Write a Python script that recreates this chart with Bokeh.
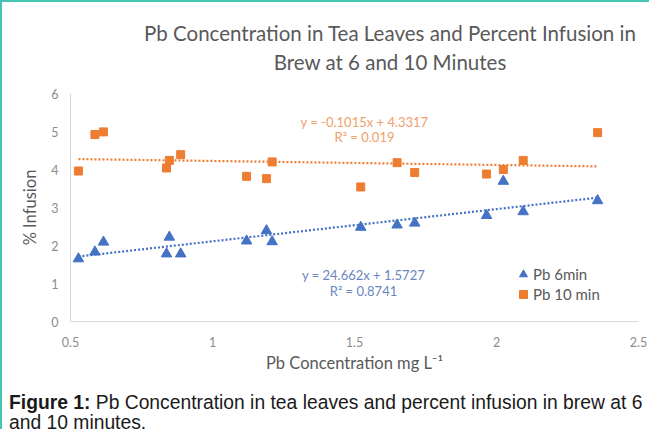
import numpy as np
from bokeh.plotting import figure
from bokeh.layouts import column
from bokeh.models import Label, Legend, LegendItem, FixedTicker, Range1d, Div
from bokeh.embed import file_html
from bokeh.resources import INLINE

# ---- data ----
pb_conc = [0.528, 0.586, 0.616, 0.838, 0.848, 0.888, 1.120, 1.190, 1.210,
           1.522, 1.650, 1.712, 1.965, 2.024, 2.094, 2.356]
pb_6min = [1.65, 1.83, 2.09, 1.78, 2.22, 1.78, 2.12, 2.39, 2.10,
           2.48, 2.54, 2.59, 2.79, 3.69, 2.89, 3.18]
pb_10min = [3.96, 4.92, 4.99, 4.04, 4.24, 4.39, 3.82, 3.76, 4.20,
            3.54, 4.18, 3.92, 3.88, 4.00, 4.24, 4.97]
series_names = ["Pb 6min", "Pb 10 min"]
x_ticks = [0.5, 1, 1.5, 2, 2.5]
x_tick_labels = ["0.5", "1", "1.5", "2", "2.5"]
y_ticks = [0, 1, 2, 3, 4, 5, 6]
y_tick_labels = ["0", "1", "2", "3", "4", "5", "6"]
eq_6min = ["y = 24.662x + 1.5727", "R\u00b2 = 0.8741"]
eq_10min = ["y = -0.1015x + 4.3317", "R\u00b2 = 0.019"]
title_lines = ["Pb Concentration in Tea Leaves and Percent Infusion in",
               "Brew at 6 and 10 Minutes"]
x_title = "Pb Concentration mg L\u207b\u00b9"
y_title = "% Infusion"
caption_bold = "Figure 1:"
caption_rest = "Pb Concentration in tea leaves and percent infusion in brew at 6"
caption_line2 = "and 10 minutes."

BLUE = "#4472c4"
ORANGE = "#ed7d31"
FONT = "Lato"

title_div = Div(
    text="<br>".join(title_lines),
    width=647, height=83, margin=(0, 0, 0, 0),
    styles={"font-family": "Lato, sans-serif", "font-size": "20.5px",
            "line-height": "29px", "color": "#595959", "text-align": "center",
            "padding-top": "17px", "padding-left": "129px",
            "white-space": "nowrap", "box-sizing": "border-box"})

p = figure(width=647, height=294, output_backend="svg", toolbar_location=None,
           x_range=Range1d(0.5, 2.5), y_range=Range1d(0, 6),
           min_border_left=68, min_border_right=11, min_border_top=8,
           min_border_bottom=58, margin=(0, 0, 0, 0))
p.outline_line_color = None
p.xgrid.grid_line_color = None
p.ygrid.grid_line_color = None

for ax in (p.xaxis, p.yaxis):
    ax.axis_line_color = "#d9d9d9"
    ax.major_tick_line_color = None
    ax.minor_tick_line_color = None
    ax.major_label_text_color = "#8c8c8c"
    ax.major_label_text_font = FONT
    ax.major_label_text_font_size = "12.5px"
    ax.axis_label_text_font = FONT
    ax.axis_label_text_font_style = "normal"
    ax.axis_label_text_color = "#595959"
    ax.axis_label_text_font_size = "16.5px"

p.xaxis.ticker = FixedTicker(ticks=x_ticks)
p.xaxis.major_label_overrides = {t: l for t, l in zip(x_ticks, x_tick_labels)}
p.yaxis.ticker = FixedTicker(ticks=y_ticks)
p.yaxis.major_label_overrides = {t: l for t, l in zip(y_ticks, y_tick_labels)}
p.xaxis.axis_label = x_title
p.yaxis.axis_label = y_title
p.xaxis.major_label_standoff = 9
p.xaxis.axis_label_standoff = 3
p.yaxis.major_label_standoff = 6
p.yaxis.axis_label_standoff = 8

# trend lines (least squares on the data)
xs = np.array(pb_conc)
x_line = [xs.min(), xs.max()]
for ys, col in ((pb_6min, BLUE), (pb_10min, ORANGE)):
    k, b = np.polyfit(xs, np.array(ys), 1)
    p.line(x_line, [k * x_line[0] + b, k * x_line[1] + b], line_color=col,
           line_width=2.2, line_dash="2 2")

r6 = p.scatter(pb_conc, pb_6min, marker="triangle", size=10.5, fill_color=BLUE,
               line_color=BLUE)
r10 = p.scatter(pb_conc, pb_10min, marker="square", size=8, fill_color=ORANGE,
                line_color=ORANGE)

legend = Legend(items=[LegendItem(label=series_names[0], renderers=[r6]),
                       LegendItem(label=series_names[1], renderers=[r10])],
                location=(443, 17), orientation="vertical",
                background_fill_alpha=0, border_line_color=None,
                padding=0, margin=0, spacing=-2,
                glyph_width=20, glyph_height=20, label_standoff=0,
                label_text_font=FONT, label_text_font_size="15px",
                label_text_color="#595959", label_height=20)
p.add_layout(legend, "center")

def add_label(text, x, y, size, color, align="center"):
    p.add_layout(Label(x=x, y=y, x_units="screen", y_units="screen", text=text,
                       text_align=align, text_baseline="middle",
                       text_font=FONT, text_font_size=size, text_color=color))

# equations
add_label(eq_10min[0], 294, 200, "13px", "#f0a06a")
add_label(eq_10min[1], 294, 185, "13px", "#f0a06a")
add_label(eq_6min[0], 293, 47, "13px", "#6a86c0")
add_label(eq_6min[1], 293, 31, "13px", "#6a86c0")

caption = Div(
    text=(f"<b>{caption_bold}</b> {caption_rest}<br>{caption_line2}"),
    width=647, height=50, margin=(0, 0, 0, 0),
    styles={"font-family": "'Liberation Sans', Arial, sans-serif",
            "font-size": "19.3px", "line-height": "20px", "color": "#1a1a1a",
            "padding-top": "14px", "padding-left": "7px",
            "white-space": "nowrap", "box-sizing": "border-box"})

layout = column(title_div, p, caption, spacing=0, margin=(0, 0, 0, 0),
                styles={"border-left": "2px solid #45c3b3",
                        "border-top": "2px solid #45c3b3"})

open("out.html", "w").write(file_html(layout, INLINE))
